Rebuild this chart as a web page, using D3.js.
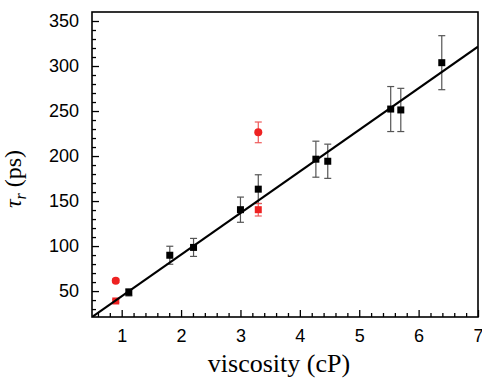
<!DOCTYPE html>
<html>
<head>
<meta charset="utf-8">
<script src="https://cdn.jsdelivr.net/npm/d3@7"></script>
<style>
  body { margin: 0; background: #fff; }
  svg { display: block; }
  .tick-label { font-family: "Liberation Sans", Arial, sans-serif; font-size: 18px; fill: #000; }
  .axis-title { font-family: "Liberation Serif", "Times New Roman", serif; fill: #000; }
</style>
</head>
<body>
<div id="chart"></div>
<script>
// black squares (measured set)
const blackX = [1.12, 1.81, 2.21, 3.0, 3.3, 4.27, 4.47, 5.53, 5.70, 6.39];
const blackY = [48.6, 89.8, 98.5, 140.4, 163.2, 196.5, 194.2, 252.2, 251.2, 303.7];
const blackErr = [4, 10, 10, 14, 16, 20, 19, 25, 24, 30];

// red circles
const redCircX = [0.9, 3.3];
const redCircY = [61.5, 226.3];
const redCircErr = [2, 11.5];

// red squares
const redSqX = [0.9, 3.3];
const redSqY = [39, 140.4];
const redSqErr = [1.5, 7];

// linear fit tau = slope * eta + intercept
const fitSlope = 46.2;
const fitIntercept = -1.9;

const xTicks = [1, 2, 3, 4, 5, 6, 7];
const yTicks = [50, 100, 150, 200, 250, 300, 350];

const W = 482, H = 379;
const margin = {top: 12, right: 4, bottom: 62, left: 92};
const innerW = W - margin.left - margin.right;
const innerH = H - margin.top - margin.bottom;

const svg = d3.select('#chart').append('svg')
  .attr('width', W).attr('height', H);

const x = d3.scaleLinear().domain([0.5, 7]).range([margin.left, margin.left + innerW]);
const y = d3.scaleLinear().domain([21.2, 360]).range([margin.top + innerH, margin.top]);

svg.append('defs').append('clipPath').attr('id', 'plotclip')
  .append('rect')
  .attr('x', margin.left).attr('y', margin.top)
  .attr('width', innerW).attr('height', innerH);

// minor + major ticks, pointing inward
const xMinor = d3.range(0.6, 7.0001, 0.2).filter(v => Math.abs(v - Math.round(v)) > 1e-6);
const yMinor = d3.range(30, 360, 10).filter(v => v % 50 !== 0);

const xAxis = d3.axisBottom(x).tickValues(xTicks).tickFormat(d3.format('d')).tickSizeInner(-7).tickSizeOuter(0).tickPadding(12);
const xAxisMinor = d3.axisBottom(x).tickValues(xMinor).tickFormat('').tickSizeInner(-4).tickSizeOuter(0);
const yAxis = d3.axisLeft(y).tickValues(yTicks).tickFormat(d3.format('d')).tickSizeInner(-7).tickSizeOuter(0).tickPadding(13);
const yAxisMinor = d3.axisLeft(y).tickValues(yMinor).tickFormat('').tickSizeInner(-4).tickSizeOuter(0);

function styleAxis(g) {
  g.select('.domain').remove();
  g.selectAll('.tick line').attr('stroke', '#000').attr('stroke-width', 1.3);
  g.selectAll('.tick text').attr('class', 'tick-label').attr('font-size', null).attr('font-family', null);
}

svg.append('g').attr('transform', `translate(0,${margin.top + innerH})`).call(xAxisMinor).call(styleAxis);
svg.append('g').attr('transform', `translate(0,${margin.top + innerH})`).call(xAxis).call(styleAxis);
svg.append('g').attr('transform', `translate(${margin.left},0)`).call(yAxisMinor).call(styleAxis);
svg.append('g').attr('transform', `translate(${margin.left},0)`).call(yAxis).call(styleAxis);

// frame
svg.append('rect')
  .attr('x', margin.left).attr('y', margin.top)
  .attr('width', innerW).attr('height', innerH)
  .attr('fill', 'none').attr('stroke', '#000').attr('stroke-width', 1.6);

const plot = svg.append('g').attr('clip-path', 'url(#plotclip)');

function errorBars(xs, ys, es, color) {
  const g = plot.append('g').attr('stroke', color).attr('stroke-width', 1.2);
  xs.forEach((xv, i) => {
    const cx = x(xv), y0 = y(ys[i] - es[i]), y1 = y(ys[i] + es[i]);
    g.append('line').attr('x1', cx).attr('x2', cx).attr('y1', y0).attr('y2', y1);
    g.append('line').attr('x1', cx - 3.5).attr('x2', cx + 3.5).attr('y1', y0).attr('y2', y0);
    g.append('line').attr('x1', cx - 3.5).attr('x2', cx + 3.5).attr('y1', y1).attr('y2', y1);
  });
}

errorBars(blackX, blackY, blackErr, '#555');
errorBars(redCircX, redCircY, redCircErr, '#ee5a5a');
errorBars(redSqX, redSqY, redSqErr, '#ee5a5a');

// red markers
plot.selectAll('circle.red').data(redCircX).enter().append('circle')
  .attr('class', 'red')
  .attr('cx', d => x(d)).attr('cy', (d, i) => y(redCircY[i]))
  .attr('r', 4).attr('fill', '#ee2222');

plot.selectAll('rect.red').data(redSqX).enter().append('rect')
  .attr('class', 'red')
  .attr('x', d => x(d) - 3.5).attr('y', (d, i) => y(redSqY[i]) - 3.5)
  .attr('width', 7).attr('height', 7).attr('fill', '#ee2222');

// fit line
plot.append('line')
  .attr('x1', x(0.5)).attr('y1', y(fitSlope * 0.5 + fitIntercept))
  .attr('x2', x(7)).attr('y2', y(fitSlope * 7 + fitIntercept))
  .attr('stroke', '#000').attr('stroke-width', 2.2);

// black squares
plot.selectAll('rect.blk').data(blackX).enter().append('rect')
  .attr('class', 'blk')
  .attr('x', d => x(d) - 3.5).attr('y', (d, i) => y(blackY[i]) - 3.5)
  .attr('width', 7).attr('height', 7).attr('fill', '#000');

// axis titles
svg.append('text').attr('class', 'axis-title')
  .attr('x', 279).attr('y', 372)
  .attr('text-anchor', 'middle').attr('font-size', 26)
  .text('viscosity (cP)');

const yt = svg.append('text').attr('class', 'axis-title')
  .attr('transform', 'translate(21,179) rotate(-90)')
  .attr('text-anchor', 'middle').attr('font-size', 24);
yt.append('tspan').attr('font-style', 'italic').text('τ');
yt.append('tspan').attr('font-style', 'italic').attr('font-size', 16).attr('dy', 5).text('r');
yt.append('tspan').attr('dy', -5).text(' (ps)');
</script>
</body>
</html>
